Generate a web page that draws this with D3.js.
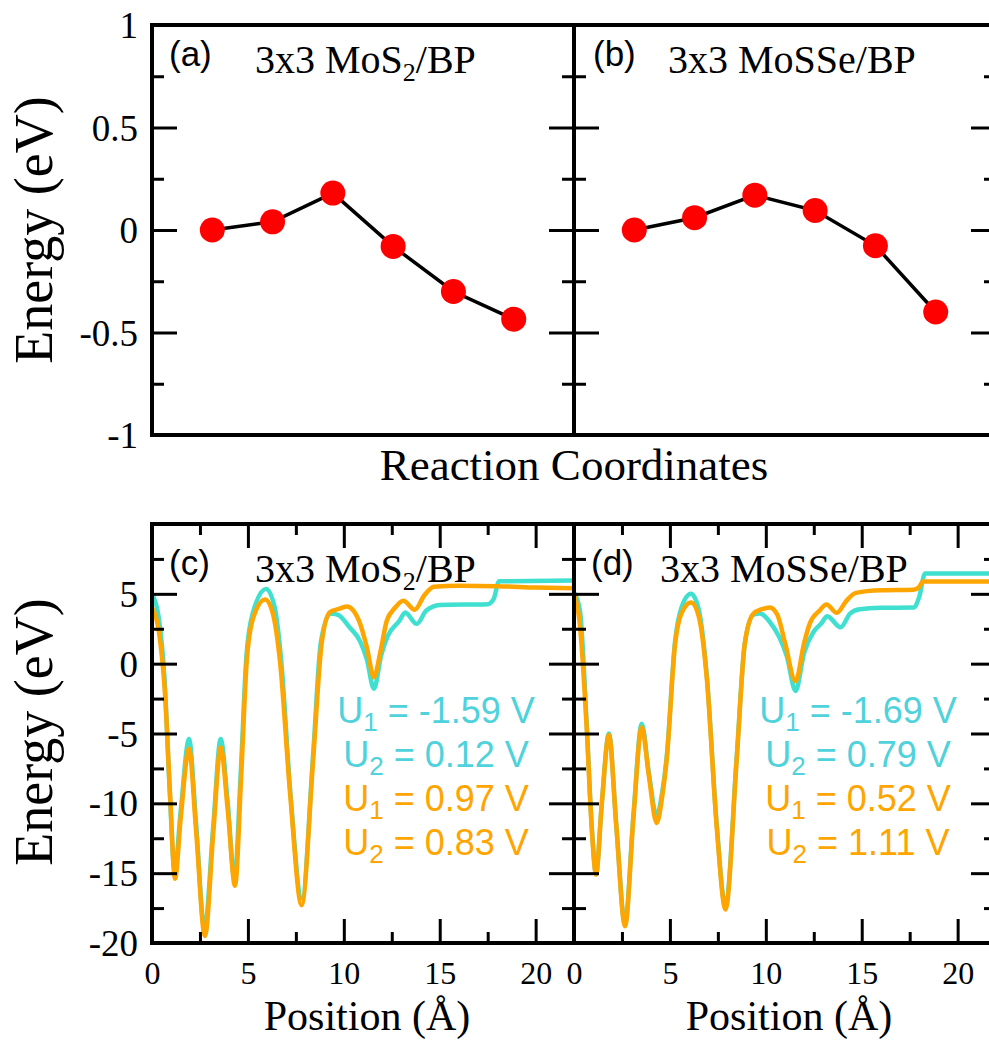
<!DOCTYPE html>
<html><head><meta charset="utf-8">
<script src="https://cdn.jsdelivr.net/npm/d3@7"></script>
<style>body{margin:0;background:#fff} svg{display:block}</style>
</head><body><svg id="chart" width="989" height="1040"></svg>
<script>
// ---------------- data ----------------
const reactionSteps = [1, 2, 3, 4, 5, 6];
const energyMoS2 = [0, 0.04, 0.18, -0.08, -0.30, -0.435];
const energyMoSSe = [0, 0.06, 0.17, 0.095, -0.077, -0.40];

const nebYTicks = [-1, -0.5, 0, 0.5, 1];
const nebYMinor = [-0.75, -0.25, 0.25, 0.75];
const potYTicks = [-20, -15, -10, -5, 0, 5];
const potYMinor = [-17.5, -12.5, -7.5, -2.5, 2.5, 7.5];
const posXTicks = [0, 5, 10, 15, 20];
const posXMinor = [2.5, 7.5, 12.5, 17.5];

// electrostatic potential profiles [position (Å), energy (eV)]
const potMoS2Cyan = [
 [0,5.0],[0.35,3.3],[0.65,-1.0],[0.92,-9.0],[1.18,-14.8],[1.5,-10.5],[1.93,-5.4],[2.3,-11.5],[2.74,-19.0],
 [3.2,-11.5],[3.58,-5.4],[3.95,-10.0],[4.3,-15.4],[4.62,-8.0],[4.92,0.5],[5.25,3.6],[5.95,5.35],[6.4,4.0],
 [6.75,0.0],[7.2,-9.0],[7.82,-16.8],[8.4,-6.5],[8.8,1.5],[9.3,3.6],[9.7,3.5],[10.3,2.6],[10.85,1.6],
 [11.2,0.3],[11.57,-1.8],[11.95,0.6],[12.3,2.0],[12.9,3.07],[13.2,3.67],[13.8,2.85],[14.3,3.8],[15.0,4.2],
 [17.5,4.26],[17.8,4.6],[18.1,5.9],[22,5.95]
];
const potMoS2Orange = [
 [0,4.0],[0.4,1.9],[0.68,-2.2],[0.94,-9.3],[1.2,-15.4],[1.5,-11],[1.93,-6.1],[2.3,-12],[2.76,-19.5],
 [3.2,-12],[3.58,-6.0],[3.95,-10.5],[4.33,-15.9],[4.65,-8],[4.94,0.2],[5.28,3.3],[5.9,4.6],[6.3,3.6],
 [6.67,0.2],[7.2,-9.3],[7.8,-17.3],[8.4,-6.9],[8.84,1.4],[9.28,3.7],[9.7,3.9],[10.15,4.1],[10.5,3.8],
 [10.85,2.86],[11.2,1.17],[11.57,-0.98],[11.9,0.8],[12.24,3.07],[12.67,4.0],[13.1,4.5],[13.7,3.86],
 [14.2,4.9],[14.7,5.5],[16,5.57],[18,5.55],[20,5.45],[22,5.4]
];
const potMoSSeCyan = [
 [0,5.1],[0.31,3.8],[0.65,-4.0],[0.92,-11.5],[1.15,-15.0],[1.45,-10],[1.82,-5.0],[2.2,-11.5],[2.66,-18.6],
 [3.1,-10.8],[3.53,-4.3],[3.9,-7.8],[4.31,-10.9],[4.6,-9.2],[4.83,-6.7],[5.27,1.6],[5.6,4.0],[6.1,5.0],
 [6.5,3.9],[6.92,-0.8],[7.44,-11.5],[7.9,-17.4],[8.48,-6.7],[8.9,1.4],[9.35,3.5],[9.7,3.6],[10.2,3.0],
 [10.7,1.9],[11.1,0.5],[11.55,-1.95],[12.0,0.8],[12.5,2.3],[12.9,2.9],[13.2,3.4],[13.9,2.6],[14.4,3.6],
 [14.9,3.9],[16,4.0],[17.7,4.02],[18.0,4.8],[18.3,6.45],[22,6.45]
];
const potMoSSeOrange = [
 [0,5.0],[0.3,2.86],[0.66,-4.55],[0.92,-11.7],[1.15,-15.1],[1.45,-10],[1.82,-5.1],[2.2,-11.5],[2.66,-18.8],
 [3.1,-11],[3.53,-4.55],[3.9,-8],[4.31,-11.4],[4.6,-9.5],[4.83,-6.9],[5.27,1.4],[5.6,3.6],[6.1,4.38],
 [6.5,3.4],[6.92,-1.0],[7.44,-11.7],[7.9,-17.6],[8.48,-6.9],[8.9,1.4],[9.35,3.57],[9.8,3.9],[10.2,4.02],
 [10.6,3.5],[11.0,1.5],[11.55,-1.25],[12.0,1.5],[12.3,2.9],[12.8,3.8],[13.16,4.24],[13.7,3.64],[14.2,4.5],
 [14.7,5.07],[16,5.25],[17.7,5.29],[18.0,5.5],[18.2,5.88],[22,5.88]
];

const legendMoS2 = ["-1.59", "0.12", "0.97", "0.83"];
const legendMoSSe = ["-1.69", "0.79", "0.52", "1.11"];
const legendSubs = ["1", "2", "1", "2"];

// ---------------- styling ----------------
const SERIF = "'Liberation Serif','Times New Roman',Times,serif";
const SANS = "'Liberation Sans',Arial,Helvetica,sans-serif";
const CYAN = "#40e0d0", CYAN_TXT = "#4fd2dc", ORANGE = "#ffa500";
const legendColors = [CYAN_TXT, CYAN_TXT, ORANGE, ORANGE];
const plain = d => String(d); // keeps ASCII hyphen-minus like the original

const svg = d3.select("#chart");

const X0 = 152, XM = 574, X1 = 996;

function frame(g, x0, x1, y0, y1) {
  g.append("rect").attr("x", x0).attr("y", y0).attr("width", x1 - x0).attr("height", y1 - y0)
    .attr("fill", "none").attr("stroke", "#000").attr("stroke-width", 4);
}

function styleAxis(g, size) {
  g.attr("font-family", null).attr("font-size", null);
  g.selectAll(".domain").remove();
  g.selectAll(".tick line").attr("stroke", "#000").attr("stroke-width", 3);
  g.selectAll(".tick text").style("font-family", SERIF).style("font-size", size + "px").attr("fill", "#000");
}

function yAxes(g, y, x0, x1, major, minor, labels) {
  const la = g.append("g").attr("transform", `translate(${x0},0)`)
    .call(d3.axisLeft(y).tickValues(major).tickSize(-25).tickPadding(14)
      .tickFormat(labels ? plain : () => ""));
  la.append("g").call(d3.axisLeft(y).tickValues(minor).tickSize(-12).tickFormat(() => ""));
  const ra = g.append("g").attr("transform", `translate(${x1},0)`)
    .call(d3.axisRight(y).tickValues(major).tickSize(-25).tickFormat(() => ""));
  ra.append("g").call(d3.axisRight(y).tickValues(minor).tickSize(-12).tickFormat(() => ""));
  g.selectAll("g").attr("font-family", null).attr("font-size", null);
  styleAxis(g, 37);
  g.selectAll(".tick text").attr("dy", "0.34em");
}

function xAxes(g, x, y0, y1) {
  const ba = g.append("g").attr("transform", `translate(0,${y1})`)
    .call(d3.axisBottom(x).tickValues(posXTicks).tickSize(-24).tickPadding(18).tickFormat(plain));
  ba.append("g").call(d3.axisBottom(x).tickValues(posXMinor).tickSize(-11).tickFormat(() => ""));
  const ta = g.append("g").attr("transform", `translate(0,${y0})`)
    .call(d3.axisTop(x).tickValues(posXTicks).tickSize(-24).tickFormat(() => ""));
  ta.append("g").call(d3.axisTop(x).tickValues(posXMinor).tickSize(-11).tickFormat(() => ""));
  g.selectAll("g").attr("font-family", null).attr("font-size", null);
  styleAxis(g, 32);
}

function panelTitle(g, lx, ly, label, tx, ty, parts) {
  g.append("text").attr("x", lx).attr("y", ly).attr("font-family", SANS).attr("font-size", 35)
    .text(label);
  const t = g.append("text").attr("x", tx).attr("y", ty).attr("font-family", SERIF).attr("font-size", 40);
  parts.forEach(p => {
    if (p.sub) t.append("tspan").attr("font-size", 26).attr("dy", 8).text(p.t);
    else t.append("tspan").attr("dy", p.after ? -8 : 0).text(p.t);
  });
}

// ---------------- top panels (NEB) ----------------
const yTop = d3.scaleLinear([-1, 1], [435, 25]);
const xA = d3.scaleLinear([0, 7], [X0, XM]);
const xB = d3.scaleLinear([0, 7], [XM, X1]);

function nebPanel(x, vals, label, lx, titleParts, tx, withLabels) {
  const g = svg.append("g");
  const data = reactionSteps.map((s, i) => [s, vals[i]]);
  panelTitle(g, lx, 66, label, tx, 73, titleParts);
  g.append("path").datum(data)
    .attr("d", d3.line().x(d => x(d[0])).y(d => yTop(d[1])))
    .attr("fill", "none").attr("stroke", "#000").attr("stroke-width", 3.5);
  g.selectAll("circle").data(data).join("circle")
    .attr("cx", d => x(d[0])).attr("cy", d => yTop(d[1])).attr("r", 12.5).attr("fill", "#ff0000");
  const ax = svg.append("g");
  yAxes(ax, yTop, x.range()[0], x.range()[1], nebYTicks, nebYMinor, withLabels);
  frame(svg, x.range()[0], x.range()[1], 25, 435);
}

nebPanel(xA, energyMoS2, "(a)", 169, [{t:"3x3 MoS"},{t:"2",sub:true},{t:"/BP",after:true}], 255, true);
nebPanel(xB, energyMoSSe, "(b)", 593, [{t:"3x3 MoSSe/BP"}], 668, false);

svg.append("text").attr("x", 52).attr("y", 230).attr("transform", "rotate(-90,52,230)")
  .attr("text-anchor", "middle").attr("font-family", SERIF).attr("font-size", 54).text("Energy (eV)");
svg.append("text").attr("x", 574).attr("y", 480).attr("text-anchor", "middle")
  .attr("font-family", SERIF).attr("font-size", 45).text("Reaction Coordinates");

// ---------------- bottom panels (potential) ----------------
const yBot = d3.scaleLinear([-20, 10], [943, 524]);
const xC = d3.scaleLinear([0, 22], [X0, XM]);
const xD = d3.scaleLinear([0, 22], [XM, X1]);

function potPanel(x, cyan, orange, legendVals, label, titleParts, tx, withLabels) {
  const g = svg.append("g");
  panelTitle(g, x.range()[0] + 17, 575, label, x.range()[0] + tx, 582, titleParts);
  const cx = x.range()[0] + 284;
  legendVals.forEach((v, i) => {
    const t = g.append("text").attr("x", cx).attr("y", 723 + i * 44).attr("text-anchor", "middle")
      .attr("font-family", SANS).attr("font-size", 36).attr("fill", legendColors[i]);
    t.append("tspan").text("U");
    t.append("tspan").attr("font-size", 26).attr("dy", 8).text(legendSubs[i]);
    t.append("tspan").attr("dy", -8).text(" = " + v + " V");
  });
  const clip = "clip" + label.replace(/\W/g, "");
  svg.append("clipPath").attr("id", clip).append("rect")
    .attr("x", x.range()[0]).attr("y", 524).attr("width", x.range()[1] - x.range()[0]).attr("height", 419);
  const line = d3.line().x(d => x(d[0])).y(d => yBot(d[1])).curve(d3.curveMonotoneX);
  const lg = svg.append("g").attr("clip-path", `url(#${clip})`);
  lg.append("path").datum(cyan).attr("d", line).attr("fill", "none").attr("stroke", CYAN)
    .attr("stroke-width", 4.5).attr("stroke-linejoin", "round");
  lg.append("path").datum(orange).attr("d", line).attr("fill", "none").attr("stroke", ORANGE)
    .attr("stroke-width", 4.5).attr("stroke-linejoin", "round");
  const ax = svg.append("g");
  yAxes(ax, yBot, x.range()[0], x.range()[1], potYTicks, potYMinor, withLabels);
  const bx = svg.append("g");
  xAxes(bx, x, 524, 943);
  frame(svg, x.range()[0], x.range()[1], 524, 943);
  svg.append("text").attr("x", (x.range()[0] + x.range()[1]) / 2 + 4).attr("y", 1030)
    .attr("text-anchor", "middle").attr("font-family", SERIF).attr("font-size", 42).text("Position (Å)");
}

potPanel(xC, potMoS2Cyan, potMoS2Orange, legendMoS2, "(c)",
  [{t:"3x3 MoS"},{t:"2",sub:true},{t:"/BP",after:true}], 103, true);
potPanel(xD, potMoSSeCyan, potMoSSeOrange, legendMoSSe, "(d)", [{t:"3x3 MoSSe/BP"}], 86, false);

svg.append("text").attr("x", 52).attr("y", 732).attr("transform", "rotate(-90,52,732)")
  .attr("text-anchor", "middle").attr("font-family", SERIF).attr("font-size", 54).text("Energy (eV)");
</script>
</body></html>
